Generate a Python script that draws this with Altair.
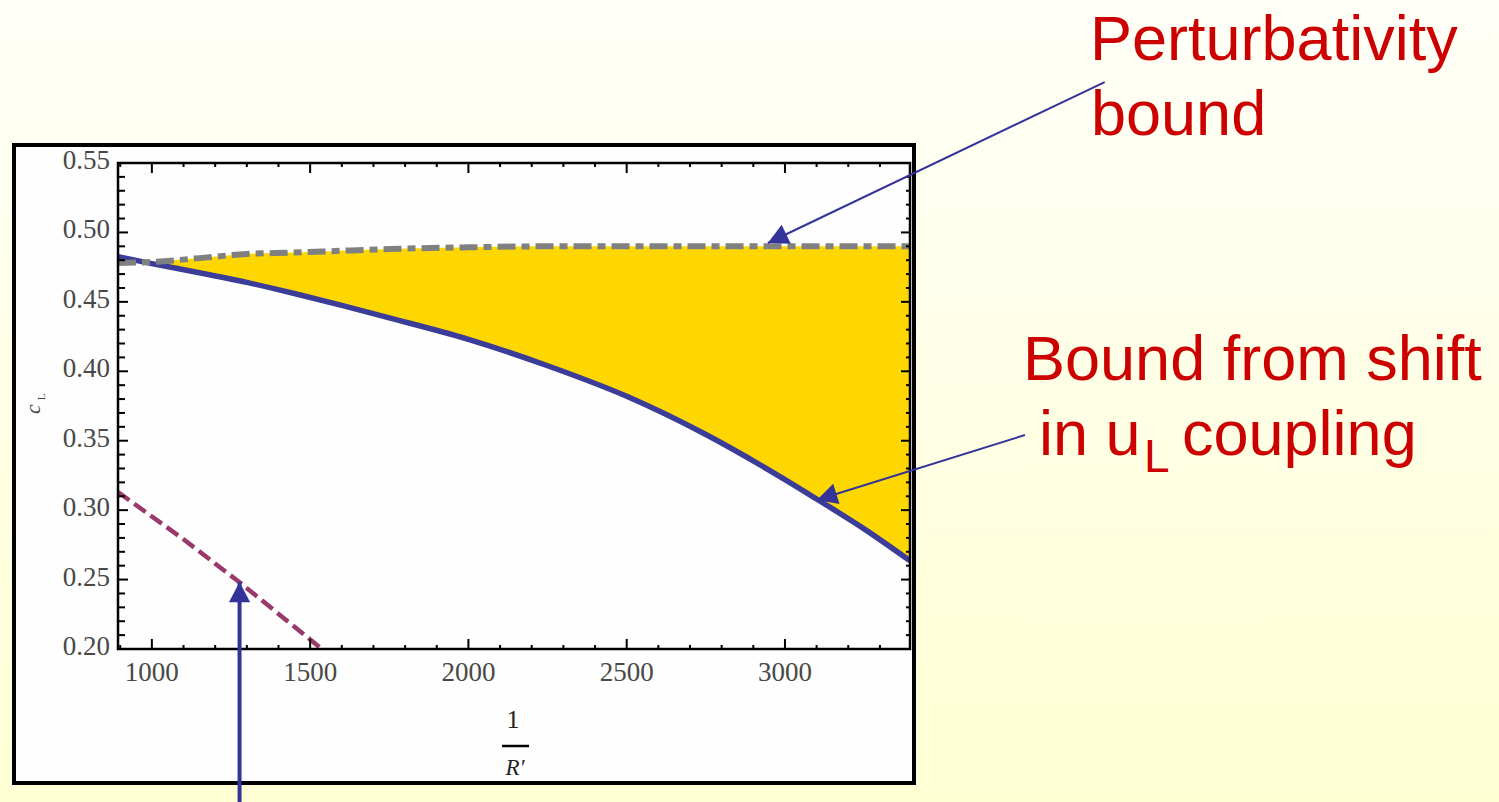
import altair as alt
import pandas as pd

# ---- data -------------------------------------------------------------
# 1/R values at which the two upper bounds are tabulated
inv_r = [893, 1000, 1150, 1300, 1450, 1600, 1750, 2000, 2250, 2500, 2750, 3000, 3100, 3250, 3395]
# bound from the shift in the u_L coupling (solid blue)
cl_shift = [0.4825, 0.4775, 0.4710, 0.4640, 0.4560, 0.4475, 0.4385, 0.4230, 0.4040, 0.3820,
            0.3545, 0.3220, 0.3080, 0.2865, 0.2635]
# perturbativity bound (grey dot-dash)
cl_pert = [0.478, 0.4787, 0.4815, 0.4845, 0.4855, 0.4868, 0.488, 0.4893, 0.490, 0.490,
           0.490, 0.490, 0.490, 0.490, 0.490]
# lower dashed curve
inv_r_low = [893, 1100, 1280, 1537]
cl_low = [0.313, 0.279, 0.2475, 0.200]

# axis ticks
x_major = [1000, 1500, 2000, 2500, 3000]
x_minor = [v for v in range(900, 3400, 100) if v not in x_major]
y_major = [0.20, 0.25, 0.30, 0.35, 0.40, 0.45, 0.50, 0.55]
y_minor = [round(0.20 + 0.01 * i, 2) for i in range(1, 35) if i % 5 != 0]

# arrows: start point, tip point (in data units), stroke width, head angle
arrow_x = [4010, 3758, 1277]
arrow_y = [0.6083, 0.3541, 0.0898]
arrow_tx = [2946, 3101, 1277]
arrow_ty = [0.4924, 0.3073, 0.2483]
arrow_w = [2, 2, 4]
arrow_angle = [244.5, 252.6, 0]

# ---- layout -----------------------------------------------------------
W, H = 792, 486
PAD = {"left": 118, "top": 163, "right": 1499 - 118 - W, "bottom": 802 - 163 - H}

xs = alt.Scale(domain=[893, 3395], nice=False, zero=False)
ys = alt.Scale(domain=[0.20, 0.55], nice=False, zero=False)

curves = pd.DataFrame({"x": inv_r, "shift": cl_shift, "pert": cl_pert})
low = pd.DataFrame({"x": inv_r_low, "y": cl_low})
one = pd.DataFrame({"t": [""]})

LABEL_FONT = "Liberation Serif"
LABEL_COLOR = "#484848"

# slide background and the white frame around the plot
background = alt.Chart(one).mark_rect(
    fill={"gradient": "linear", "x1": 0, "y1": 0, "x2": 0, "y2": 1,
          "stops": [{"offset": 0, "color": "#FFFFF8"}, {"offset": 1, "color": "#FFFFD4"}]}
).encode(x=alt.value(-PAD["left"]), x2=alt.value(W + PAD["right"]),
         y=alt.value(-PAD["top"]), y2=alt.value(H + PAD["bottom"]))

panel = alt.Chart(one).mark_rect(fill="#FEFEFE", stroke="black", strokeWidth=4).encode(
    x=alt.value(-104), x2=alt.value(W + 4), y=alt.value(-18), y2=alt.value(H + 134))

# allowed region between the two bounds
fill = alt.Chart(curves).transform_filter("datum.pert >= datum.shift").mark_area(
    color="#FFD700", interpolate="monotone", clip=True).encode(
    x=alt.X("x:Q", scale=xs, axis=None),
    y=alt.Y("shift:Q", scale=ys, axis=None),
    y2="pert:Q")

shift_line = alt.Chart(curves).mark_line(
    color="#3C3C99", strokeWidth=5.5, interpolate="monotone", clip=True).encode(
    x=alt.X("x:Q", scale=xs, axis=None), y=alt.Y("shift:Q", scale=ys, axis=None))

pert_line = alt.Chart(curves).mark_line(
    color="#808080", strokeWidth=6, strokeDash=[18, 6, 8, 6], interpolate="monotone",
    clip=True).encode(
    x=alt.X("x:Q", scale=xs, axis=None), y=alt.Y("pert:Q", scale=ys, axis=None))

low_line = alt.Chart(low).mark_line(
    color="#993A6B", strokeWidth=4.5, strokeDash=[14, 6], clip=True).encode(
    x=alt.X("x:Q", scale=xs, axis=None), y=alt.Y("y:Q", scale=ys, axis=None))

# plot frame
frame = alt.Chart(one).mark_rect(fillOpacity=0, stroke="black", strokeWidth=2.5).encode(
    x=alt.value(0), x2=alt.value(W), y=alt.value(0), y2=alt.value(H))

# inward-pointing ticks on all four sides
def xticks(vals, y0, y1):
    return alt.Chart(pd.DataFrame({"v": vals})).mark_rule(color="black", strokeWidth=2).encode(
        x=alt.X("v:Q", scale=xs, axis=None), y=alt.value(y0), y2=alt.value(y1))

def yticks(vals, x0, x1):
    return alt.Chart(pd.DataFrame({"v": vals})).mark_rule(color="black", strokeWidth=2).encode(
        y=alt.Y("v:Q", scale=ys, axis=None), x=alt.value(x0), x2=alt.value(x1))

ticks = [
    xticks(x_major, H, H - 10), xticks(x_minor, H, H - 4),
    xticks(x_major, 0, 10), xticks(x_minor, 0, 4),
    yticks(y_major, 0, 10), yticks(y_minor, 0, 7),
    yticks(y_major, W, W - 9), yticks(y_minor, W, W - 4),
]

# tick labels
x_labels = alt.Chart(pd.DataFrame({"v": x_major})).mark_text(
    font=LABEL_FONT, fontSize=27, color=LABEL_COLOR, align="center", baseline="top").encode(
    x=alt.X("v:Q", scale=xs, axis=None), y=alt.value(H + 11),
    text=alt.Text("v:Q", format="d"))
y_labels = alt.Chart(pd.DataFrame({"v": y_major})).mark_text(
    font=LABEL_FONT, fontSize=27, color=LABEL_COLOR, align="right", baseline="middle",
    dy=-2).encode(
    y=alt.Y("v:Q", scale=ys, axis=None), x=alt.value(-8),
    text=alt.Text("v:Q", format=".2f"))

# axis titles
def label(text, x, y, **kw):
    return alt.Chart(pd.DataFrame({"t": [text]})).mark_text(**kw).encode(
        x=alt.value(x), y=alt.value(y), text="t:N")

titles = [
    label("c", -85, 246, font=LABEL_FONT, fontSize=22, fontStyle="italic", angle=270,
          align="center", baseline="middle", color="#444"),
    label("L", -76, 234, font=LABEL_FONT, fontSize=11, angle=270,
          align="center", baseline="middle", color="#444"),
    label("1", 395, 557, font=LABEL_FONT, fontSize=26, align="center", baseline="middle",
          color="#222"),
    label("R\u2032", 397, 605, font=LABEL_FONT, fontSize=23, fontStyle="italic",
          align="center", baseline="middle", color="#222"),
    alt.Chart(one).mark_rule(color="black", strokeWidth=2.5).encode(
        x=alt.value(384), x2=alt.value(411), y=alt.value(583)),
]

# arrows pointing at the curves
arrows = pd.DataFrame({"x": arrow_x, "y": arrow_y, "tx": arrow_tx, "ty": arrow_ty,
                       "w": arrow_w, "angle": arrow_angle})
shafts = alt.Chart(arrows).mark_rule(color="#333399").encode(
    x=alt.X("x:Q", scale=xs, axis=None), y=alt.Y("y:Q", scale=ys, axis=None),
    x2="tx:Q", y2="ty:Q", strokeWidth=alt.StrokeWidth("w:Q", scale=None))
heads = alt.Chart(arrows).mark_point(
    shape="M0,0L-0.6,1.15L0.6,1.15Z", filled=True, size=1250, color="#333399", opacity=1).encode(
    x=alt.X("tx:Q", scale=xs, axis=None), y=alt.Y("ty:Q", scale=ys, axis=None),
    angle=alt.Angle("angle:Q", scale=None))

# red annotations
RED = dict(font="Liberation Sans", fontSize=63, color="#CC0000", align="left",
           baseline="alphabetic")
notes = [
    label("Perturbativity", 972, -103, **RED),
    label("bound", 973, -28, **RED),
    label("Bound from shift", 905, 217, **RED),
    label("in u", 921, 292, **RED),
    label("L", 1026, 309, **{**RED, "fontSize": 46}),
    label("coupling", 1064, 292, **RED),
]

chart = alt.layer(
    background, panel, fill, shift_line, pert_line, low_line, frame,
    *ticks, x_labels, y_labels, *titles, shafts, heads, *notes
).properties(
    width=W, height=H, padding=PAD, autosize=alt.AutoSizeParams(type="none"),
    background="#FFFFF0",
).configure_view(stroke=None)

chart.save("out.html", embed_options={"renderer": "svg", "actions": False})
